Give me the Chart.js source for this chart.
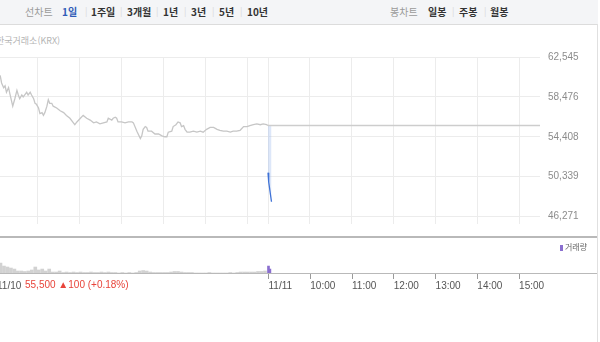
<!DOCTYPE html>
<html lang="ko">
<head>
<meta charset="UTF-8" />
<title>주가 차트</title>
<script src="https://cdn.jsdelivr.net/npm/chart.js"></script>
<style>
  body { margin:0; width:600px; height:342px; overflow:hidden; background:#fff; position:relative;
         font-family:"Noto Sans CJK KR","Noto Sans",sans-serif; }
  .top { position:absolute; left:0; top:0; width:598px; height:24px; background:#f4f5f7; border-bottom:1px solid #dcdcdc; }
  .top span { position:absolute; top:4px; font-size:10px; line-height:16px; color:#333; font-weight:700; white-space:nowrap; }
  .top span.lbl { color:#9a9a9a; font-weight:400; }
  .top span.on { color:#2f5bb7; }
  .top span.sep { color:#d8d8d8; font-weight:400; font-size:9px; }
  .src { position:absolute; left:-4px; top:34px; font-size:9px; color:#b4b4b4; white-space:nowrap; }
  .rline { position:absolute; left:597px; top:24px; width:1px; height:318px; background:#e0e0e0; }
  .hline { position:absolute; left:0; width:597px; background:#b9b9b9; }
  .wrap { position:absolute; left:-4px; width:601px; }
  .legend { position:absolute; left:560px; top:241px; font-size:8px; line-height:12px; color:#666; white-space:nowrap; }
  .legend i { display:inline-block; width:3px; height:6px; background:#8a6fcf; margin-right:2px; vertical-align:-1px; }
  .info { position:absolute; left:25px; top:278px; font-family:"Liberation Sans",Arial,sans-serif; font-size:10px; line-height:14px; color:#e8443a; white-space:nowrap; }
</style>
</head>
<body>
  <div class="top">
    <span class="lbl" style="left:25px">선차트</span>
    <span class="on" style="left:62px">1일</span>
    <span class="sep" style="left:85px">|</span>
    <span style="left:91px">1주일</span>
    <span class="sep" style="left:120px">|</span>
    <span style="left:127px">3개월</span>
    <span class="sep" style="left:156px">|</span>
    <span style="left:163px">1년</span>
    <span class="sep" style="left:184px">|</span>
    <span style="left:191px">3년</span>
    <span class="sep" style="left:212px">|</span>
    <span style="left:219px">5년</span>
    <span class="sep" style="left:240px">|</span>
    <span style="left:247px">10년</span>
    <span class="lbl" style="left:390px">봉차트</span>
    <span style="left:428px">일봉</span>
    <span class="sep" style="left:452px">|</span>
    <span style="left:459px">주봉</span>
    <span class="sep" style="left:484px">|</span>
    <span style="left:490px">월봉</span>
  </div>
  <div class="src">한국거래소(KRX)</div>

  <div class="wrap" style="top:24px;height:214px"><canvas id="price" width="601" height="214"></canvas></div>
  <div class="hline" style="top:236px;height:2px"></div>
  <div class="wrap" style="top:238px;height:62px"><canvas id="vol" width="601" height="62"></canvas></div>
  <div class="hline" style="top:273px;height:1px"></div>
  <div class="rline"></div>
  <div class="legend"><i></i>거래량</div>
  <div class="info">55,500 ▲100 (+0.18%)</div>

<script>
// minutes counted from 11/10 09:00 (11/11 09:00 = 390)
const xTickMinutes = [0, 390, 450, 510, 570, 630, 690, 750];
const xTickLabels = ['11/10', '11/11', '10:00', '11:00', '12:00', '13:00', '14:00', '15:00'];
const gridMinutes = [60, 120, 180, 240, 300, 360, 390, 450, 510, 570, 630, 690, 750];
const priceTicks = [46271, 50339, 54408, 58476, 62545];

// 11/10 intraday (gray)
const prevMinutes = [6, 8, 11, 13, 15, 18, 20, 24, 27, 30, 32, 34, 37, 39, 42, 44, 46, 49, 51, 54,
  56, 58, 61, 63, 66, 68, 70, 73, 75, 77, 80, 82, 87, 92, 97, 101, 106, 111, 113, 116,
  121, 125, 130, 135, 140, 144, 149, 154, 159, 161, 166, 168, 171, 173, 175, 180, 185, 190, 195, 197,
  202, 207, 209, 211, 214, 216, 218, 223, 228, 233, 238, 242, 245, 247, 252, 254, 258, 261, 264, 266,
  269, 271, 274, 278, 283, 288, 293, 297, 302, 307, 312, 317, 321, 326, 331, 336, 340, 345, 350, 355,
  360, 364, 369, 374, 379, 383, 388, 390];
const prevPrices = [60680, 59900, 59420, 59610, 58950, 59420, 58760, 57530, 58290, 59140, 58670, 58290, 58670, 58480, 58760, 58950, 58670, 58950, 58670, 58290,
  57820, 57720, 57340, 56770, 56870, 56590, 56870, 57530, 58190, 57820, 57820, 57530, 57340, 57060, 56870, 56590, 56300, 55830, 55640, 55920,
  56300, 56590, 56300, 56110, 55830, 55920, 55730, 55830, 55920, 56300, 56110, 56300, 56400, 56300, 55920, 55920, 55830, 55920, 55920, 55830,
  54980, 54220, 54500, 55170, 55450, 55360, 54980, 54980, 54690, 54690, 54500, 54410, 54410, 54880, 54980, 55450, 55640, 55920, 55830, 55450,
  55550, 55170, 54880, 54880, 54980, 54880, 54980, 54880, 55170, 55360, 55360, 55170, 55070, 54980, 54980, 54880, 54980, 54980, 55070, 55450,
  55450, 55550, 55640, 55730, 55640, 55730, 55640, 55560];

const closeMinutes = [390, 780];
const closePrice = 55560;

// 11/11 (blue)
const todayMinutes = [390, 391, 395];
const todayPrices = [50750, 49800, 47780];

// volume
const volPrevMinutes = [0, 5, 10, 15, 20, 25, 30, 35, 40, 45, 50, 55, 60, 65, 70, 75, 80, 85, 90, 95,
  100, 105, 110, 115, 120, 125, 130, 135, 140, 145, 150, 155, 160, 165, 170, 175, 180, 185, 190, 195,
  200, 205, 210, 215, 220, 225, 230, 235, 240, 245, 250, 255, 260, 265, 270, 275, 280, 285, 290, 295,
  300, 305, 310, 315, 320, 325, 330, 335, 340, 345, 350, 355, 360, 365, 370, 375, 380, 385];
const volPrevValues = [200000, 183000, 133000, 117000, 100000, 83000, 50000, 50000, 42000, 50000, 67000, 117000, 67000, 83000, 50000, 83000, 33000, 33000, 50000, 25000,
  33000, 25000, 33000, 25000, 33000, 25000, 25000, 33000, 25000, 25000, 33000, 25000, 33000, 25000, 25000, 17000, 25000, 17000, 25000, 17000,
  25000, 50000, 58000, 50000, 33000, 25000, 25000, 25000, 25000, 25000, 33000, 42000, 42000, 33000, 25000, 25000, 25000, 17000, 17000, 17000,
  17000, 25000, 17000, 17000, 17000, 17000, 17000, 25000, 17000, 25000, 33000, 33000, 33000, 33000, 33000, 42000, 42000, 50000];
const volTodayMinutes = [390, 392];
const volTodayValues = [133000, 83000];

const pts = (xs, ys) => xs.map((x, i) => ({ x, y: Array.isArray(ys) ? ys[i] : ys }));
const ticksFrom = arr => scale => { scale.ticks = arr.map(v => ({ value: v })); };

new Chart(document.getElementById('price'), {
  type: 'line',
  data: {
    datasets: [
      { data: pts(prevMinutes, prevPrices), borderColor: '#c6c6c6', borderWidth: 1.3, pointRadius: 0, tension: 0 },
      { data: pts(closeMinutes, closePrice), borderColor: '#cdcdcd', borderWidth: 1.3, pointRadius: 0 },
      { data: pts(todayMinutes, todayPrices), borderColor: '#3f72d6', borderWidth: 1.3, pointRadius: 0,
        fill: { value: closePrice }, backgroundColor: 'rgba(170,196,240,0.4)' }
    ]
  },
  options: {
    responsive: false, animation: false, devicePixelRatio: 1,
    layout: { padding: { top: 33, bottom: 1, left: 0, right: 0 } },
    plugins: { legend: { display: false }, tooltip: { enabled: false } },
    scales: {
      x: {
        type: 'linear', min: 0, max: 780,
        afterBuildTicks: ticksFrom(gridMinutes),
        afterFit: s => { s.height = 0; },
        ticks: { display: false },
        grid: { color: '#ececec', drawTicks: false },
        border: { display: false }
      },
      y: {
        position: 'right', min: 45514, max: 62545,
        afterBuildTicks: ticksFrom(priceTicks),
        afterFit: s => { s.width = 57; },
        ticks: {
          padding: 8, color: '#8c8c8c',
          font: { family: '"Liberation Sans", Arial, sans-serif', size: 10 },
          callback: v => v.toLocaleString('en-US')
        },
        grid: { color: '#ececec', drawTicks: false },
        border: { display: false }
      }
    }
  }
});

new Chart(document.getElementById('vol'), {
  type: 'bar',
  data: {
    datasets: [
      { data: pts(volPrevMinutes, volPrevValues), backgroundColor: '#d2d2d2', barThickness: 3, grouped: false },
      { data: pts(volTodayMinutes, volTodayValues), backgroundColor: '#8a6fcf', barThickness: 2, grouped: false }
    ]
  },
  options: {
    responsive: false, animation: false, devicePixelRatio: 1,
    layout: { padding: { top: 2, right: 57, left: 0, bottom: 0 } },
    plugins: { legend: { display: false }, tooltip: { enabled: false } },
    scales: {
      x: {
        type: 'linear', min: 0, max: 780, offset: false,
        afterBuildTicks: ticksFrom(xTickMinutes),
        afterFit: s => { s.height = 26; },
        ticks: {
          autoSkip: false, maxRotation: 0, align: 'start', padding: 1, color: '#555',
          font: { family: '"Liberation Sans", Arial, sans-serif', size: 10 },
          callback: v => xTickLabels[xTickMinutes.indexOf(v)]
        },
        grid: { offset: false, drawOnChartArea: false, drawTicks: true, tickLength: 5, color: '#9a9a9a' },
        border: { display: false }
      },
      y: { display: false, min: 0, max: 570000 }
    }
  }
});
</script>
</body>
</html>
